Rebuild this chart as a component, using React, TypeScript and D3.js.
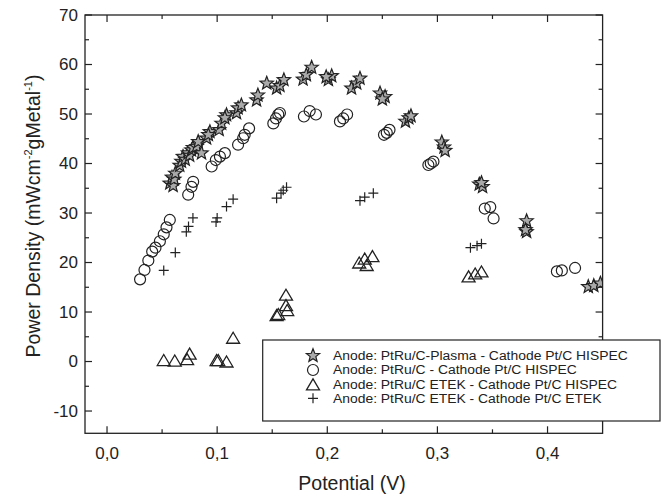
import React from "react";
import * as d3 from "d3";

const starX = [0.057,0.059,0.060,0.061,0.062,0.066,0.0676,0.069,0.071,0.0736,0.075,0.0767,0.078,0.0813,0.0828,0.0858,0.0904,0.0934,0.092,0.1018,0.104,0.1085,0.107,0.1176,0.119,0.122,0.1358,0.137,0.145,0.154,0.157,0.1606,0.178,0.181,0.1858,0.201,0.204,0.199,0.222,0.2267,0.2297,0.2479,0.2525,0.250,0.271,0.274,0.276,0.304,0.306,0.307,0.338,0.341,0.340,0.381,0.381,0.380,0.437,0.442,0.448];
const starY = [36.0,37.2,35.5,36.8,38.0,39.6,40.4,41.4,40.8,42.1,41.6,42.7,43.2,43.4,44.4,42.1,45.1,46.4,45.8,46.8,48.1,49.8,49.2,50.2,51.2,51.8,52.8,53.8,56.2,55.2,55.7,56.9,57.0,57.9,59.4,56.9,57.7,57.5,55.2,56.2,57.2,54.2,53.5,53.0,48.5,49.2,49.6,44.3,43.3,42.6,35.8,35.3,36.1,28.4,26.2,26.6,15.1,15.3,15.8];

const circleX = [0.030,0.034,0.0375,0.041,0.044,0.048,0.0515,0.054,0.057,0.0737,0.0767,0.0782,0.095,0.0988,0.1025,0.107,0.119,0.1236,0.125,0.129,0.151,0.1534,0.1555,0.157,0.1788,0.184,0.1897,0.2115,0.2145,0.218,0.2515,0.254,0.2565,0.2918,0.2964,0.294,0.343,0.348,0.351,0.4085,0.413,0.425];
const circleY = [16.6,18.5,20.4,22.2,23.0,24.3,25.7,27.1,28.6,33.7,35.3,36.3,39.4,40.7,41.4,42.1,43.8,45.1,45.8,47.1,48.1,49.1,49.9,50.2,49.5,50.6,49.9,48.5,49.1,49.9,45.8,46.2,46.8,39.7,40.4,40.0,30.9,31.2,28.9,18.2,18.4,18.9];

const triX = [0.0515,0.0615,0.0727,0.075,0.0995,0.101,0.1085,0.1145,0.154,0.1555,0.1625,0.1636,0.1625,0.229,0.234,0.2358,0.241,0.3283,0.3343,0.340];
const triY = [0.3,0.2,0.5,1.6,0.3,0.3,0.0,4.8,9.4,9.6,11.4,10.4,13.5,20.0,20.8,19.5,21.3,17.2,17.8,18.2];

const plusX = [0.0515,0.062,0.072,0.074,0.078,0.099,0.100,0.1085,0.1145,0.154,0.158,0.160,0.163,0.2297,0.234,0.2418,0.330,0.336,0.340];
const plusY = [18.4,22.0,26.2,27.3,29.0,28.2,29.0,31.3,32.8,33.0,34.0,34.6,35.2,32.5,33.2,34.0,23.0,23.4,23.8];

const xMajor = [0, 0.1, 0.2, 0.3, 0.4];
const xMinor = [0.05, 0.15, 0.25, 0.35];
const xTickLabels = ["0,0", "0,1", "0,2", "0,3", "0,4"];
const yMajor = [-10, 0, 10, 20, 30, 40, 50, 60, 70];
const yMinor = [-5, 5, 15, 25, 35, 45, 55, 65];

const legendLabels = [
  "Anode: PtRu/C-Plasma - Cathode Pt/C HISPEC",
  "Anode: PtRu/C - Cathode Pt/C HISPEC",
  "Anode: PtRu/C ETEK - Cathode Pt/C HISPEC",
  "Anode: PtRu/C ETEK - Cathode Pt/C ETEK",
];

const INK = "#222";
const FONT = "'Liberation Sans', Arial, sans-serif";

function starPath(cx: number, cy: number, R = 7, r = 3) {
  const pts: [number, number][] = [];
  for (let i = 0; i < 10; i++) {
    const a = -Math.PI / 2 + (i * Math.PI) / 5;
    const rr = i % 2 === 0 ? R : r;
    pts.push([cx + rr * Math.cos(a), cy + rr * Math.sin(a)]);
  }
  return d3.line()(pts)! + "Z";
}
function triPath(cx: number, cy: number, w = 13, h = 11) {
  return `M${cx - w / 2},${cy + h / 2}L${cx},${cy - h / 2}L${cx + w / 2},${cy + h / 2}Z`;
}
function plusPath(cx: number, cy: number, s = 5) {
  return `M${cx - s},${cy}H${cx + s}M${cx},${cy - s}V${cy + s}`;
}

function Marker({ kind, x, y }: { kind: number; x: number; y: number }) {
  if (kind === 0)
    return <path d={starPath(x, y)} fill="#aaa" stroke={INK} strokeWidth={1.2} strokeLinejoin="miter" />;
  if (kind === 1) return <circle cx={x} cy={y} r={5.5} fill="none" stroke={INK} strokeWidth={1.2} />;
  if (kind === 2) return <path d={triPath(x, y)} fill="none" stroke={INK} strokeWidth={1.3} />;
  return <path d={plusPath(x, y)} fill="none" stroke={INK} strokeWidth={1.2} />;
}

export default function App() {
  const W = 668, H = 496;
  const L = 85, R = 602.6, T = 15, B = 433.3;
  const x = d3.scaleLinear().domain([-0.02, 0.45]).range([L, R]);
  const y = d3.scaleLinear().domain([-14.5, 70]).range([B, T]);

  const series = [
    { kind: 0, xs: starX, ys: starY },
    { kind: 1, xs: circleX, ys: circleY },
    { kind: 2, xs: triX, ys: triY },
    { kind: 3, xs: plusX, ys: plusY },
  ];

  const major = 7, minor = 4;
  const legendRows = [355.7, 370, 384.3, 398.3];
  const legendTextX = 333;
  const legendScale = 1.13;

  return (
    <svg width={W} height={H} style={{ position: "absolute", left: 0, top: 0, background: "#fff" }} fontFamily={FONT}>
      <defs>
        <clipPath id="plot">
          <rect x={L} y={T} width={R - L} height={B - T} />
        </clipPath>
      </defs>
      <rect x={0} y={0} width={W} height={H} fill="#fff" />
      <g clipPath="url(#plot)">
        {series.map((s) =>
          s.xs.map((v, i) => <Marker key={`${s.kind}-${i}`} kind={s.kind} x={x(v)} y={y(s.ys[i])} />)
        )}
      </g>
      {/* frame */}
      <rect x={L} y={T} width={R - L} height={B - T} fill="none" stroke={INK} strokeWidth={1.3} />
      {/* x ticks */}
      {xMajor.map((v) => (
        <g key={`xm${v}`}>
          <line x1={x(v)} x2={x(v)} y1={B} y2={B - major} stroke={INK} strokeWidth={1.2} />
          <line x1={x(v)} x2={x(v)} y1={T} y2={T + major} stroke={INK} strokeWidth={1.2} />
        </g>
      ))}
      {xMinor.map((v) => (
        <g key={`xn${v}`}>
          <line x1={x(v)} x2={x(v)} y1={B} y2={B - minor} stroke={INK} strokeWidth={1.2} />
          <line x1={x(v)} x2={x(v)} y1={T} y2={T + minor} stroke={INK} strokeWidth={1.2} />
        </g>
      ))}
      {xMajor.map((v, i) => (
        <text key={`xl${v}`} x={x(v)} y={458.5} textAnchor="middle" fontSize={17} fill={INK}>
          {xTickLabels[i]}
        </text>
      ))}
      {/* y ticks */}
      {yMajor.map((v) => (
        <g key={`ym${v}`}>
          <line x1={L} x2={L + major} y1={y(v)} y2={y(v)} stroke={INK} strokeWidth={1.2} />
          <line x1={R} x2={R - major} y1={y(v)} y2={y(v)} stroke={INK} strokeWidth={1.2} />
        </g>
      ))}
      {yMinor.map((v) => (
        <g key={`yn${v}`}>
          <line x1={L} x2={L + minor} y1={y(v)} y2={y(v)} stroke={INK} strokeWidth={1.2} />
          <line x1={R} x2={R - minor} y1={y(v)} y2={y(v)} stroke={INK} strokeWidth={1.2} />
        </g>
      ))}
      {yMajor.map((v) => (
        <text key={`yl${v}`} x={78} y={y(v)} dy="0.35em" textAnchor="end" fontSize={17} fill={INK}>
          {v}
        </text>
      ))}
      {/* axis titles */}
      <text x={352} y={490} textAnchor="middle" fontSize={19.5} fill={INK}>
        Potential (V)
      </text>
      <text transform={`translate(40,216) rotate(-90)`} textAnchor="middle" fontSize={19.5} fill={INK}>
        Power Density (mWcm
        <tspan fontSize={11} dy={-8}>-2</tspan>
        <tspan dy={8}>gMetal</tspan>
        <tspan fontSize={11} dy={-8}>-1</tspan>
        <tspan dy={8}>)</tspan>
      </text>
      {/* legend */}
      <rect x={262.7} y={340} width={660 - 262.7} height={421 - 340} fill="#fff" stroke={INK} strokeWidth={1.2} />
      {legendLabels.map((lab, i) => (
        <g key={lab}>
          <Marker kind={i} x={313} y={legendRows[i]} />
          <text
            transform={`translate(${legendTextX},${legendRows[i]}) scale(${legendScale},1)`}
            dy="0.35em"
            fontSize={12.3}
            fill={INK}
          >
            {lab}
          </text>
        </g>
      ))}
    </svg>
  );
}
